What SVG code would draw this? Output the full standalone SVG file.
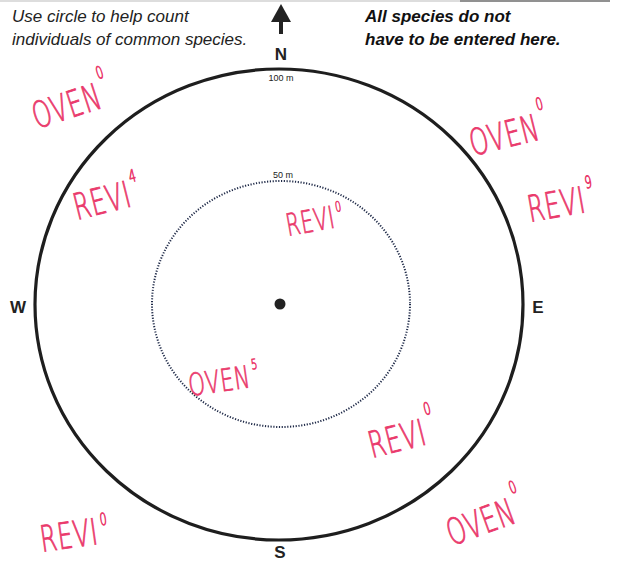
<svg xmlns="http://www.w3.org/2000/svg" width="629" height="562" viewBox="0 0 629 562">
<style>
.note{font-family:"Liberation Sans",Arial,sans-serif;font-size:17px;font-style:italic;fill:#222}
.noteb{font-family:"Liberation Sans",Arial,sans-serif;font-size:17px;font-style:italic;font-weight:bold;fill:#111}
.dir{font-family:"Liberation Sans",Arial,sans-serif;font-size:17px;font-weight:bold;fill:#222;text-anchor:middle}
.sm{font-family:"Liberation Sans",Arial,sans-serif;font-size:9px;fill:#222;text-anchor:middle}
.hw{font-family:"DejaVu Sans",sans-serif;font-weight:200;font-size:28px;fill:#ea3a6c;stroke:#ea3a6c;stroke-width:0.7;letter-spacing:1px}
.sup{font-size:13px}
</style>
<rect width="629" height="562" fill="#ffffff"/>
<line x1="0" y1="1" x2="610" y2="1" stroke="#bbb" stroke-width="1.2"/>
<line x1="460" y1="1" x2="610" y2="1" stroke="#777" stroke-width="1.5"/>
<g id="instructions">
<text class="note" x="12" y="22">Use circle to help count</text>
<text class="note" x="12" y="45">individuals of common species.</text>
<text class="noteb" x="365" y="22">All species do not</text>
<text class="noteb" x="365" y="45">have to be entered here.</text>
</g>
<g id="north-arrow">
<polygon points="281,4 291,22 271,22" fill="#222"/>
<rect x="279" y="21" width="4" height="13" fill="#222"/>
</g>
<g id="outer-circle">
<ellipse cx="279" cy="304.5" rx="244" ry="235.5" fill="none" stroke="#1e1e1e" stroke-width="3.2"/>
<text class="sm" x="281" y="81">100 m</text>
</g>
<g id="inner-circle">
<ellipse cx="281" cy="304" rx="129" ry="123" fill="none" stroke="#1f2a48" stroke-width="2" stroke-dasharray="1.2 1.6"/>
<text class="sm" x="283" y="178">50 m</text>
</g>
<g id="center"><circle cx="280" cy="304" r="5.5" fill="#222"/></g>
<g id="compass">
<text class="dir" x="281" y="60">N</text>
<text class="dir" x="18" y="313">W</text>
<text class="dir" x="538" y="313">E</text>
<text class="dir" x="280" y="558">S</text>
</g>
<g id="tallies">
<text class="hw" transform="translate(37,129) rotate(-18) scale(0.85,1.3)">OVEN<tspan class="sup" dx="3" dy="-22">0</tspan></text>
<text class="hw" transform="translate(77,220) rotate(-14) scale(0.85,1.3)">REVI<tspan class="sup" dx="3" dy="-18">4</tspan></text>
<text class="hw" transform="translate(473,156) rotate(-14) scale(0.85,1.3)">OVEN<tspan class="sup" dx="3" dy="-22">0</tspan></text>
<text class="hw" transform="translate(530,222) rotate(-10) scale(0.85,1.3)">REVI<tspan class="sup" dx="3" dy="-18">9</tspan></text>
<text class="hw" transform="translate(288,236) rotate(-10) scale(0.72,1.1)">REVI<tspan class="sup" dx="3" dy="-14">0</tspan></text>
<text class="hw" transform="translate(190,396) rotate(-8) scale(0.75,1.1)">OVEN<tspan class="sup" dx="3" dy="-16">5</tspan></text>
<text class="hw" transform="translate(372,458) rotate(-14) scale(0.85,1.3)">REVI<tspan class="sup" dx="4" dy="-22">0</tspan></text>
<text class="hw" transform="translate(42,552) rotate(-8) scale(0.85,1.3)">REVI<tspan class="sup" dx="4" dy="-14">0</tspan></text>
<text class="hw" transform="translate(452,546) rotate(-20) scale(0.85,1.3)">OVEN<tspan class="sup" dx="3" dy="-22">0</tspan></text>
</g>
</svg>
